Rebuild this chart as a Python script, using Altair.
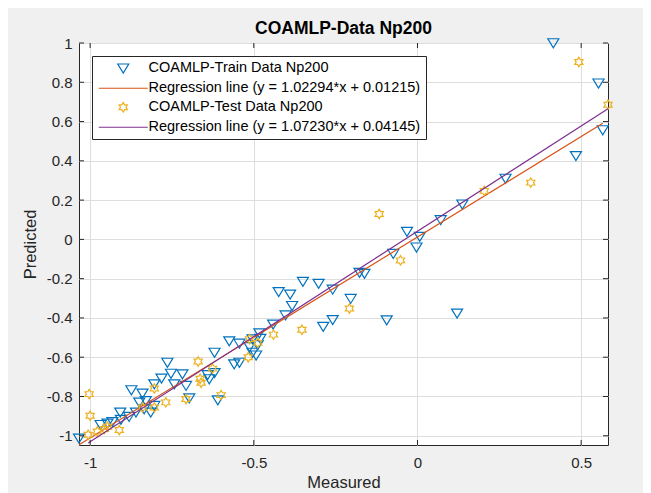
import altair as alt
import pandas as pd

# ---------------- data ----------------
train_measured = [0.415, 0.553, 0.566, 0.484, 0.269, 0.137, 0.071, -0.032, 0.007, -0.003,
                  -0.074, -0.094, 0.121, -0.177, -0.162, -0.350, -0.302, -0.424, -0.389, -0.259,
                  -0.204, -0.383, -0.403, -0.259, -0.288, -0.441, -0.483, -0.575, -0.544, -0.504,
                  -0.480, -0.513, -0.488, -0.493, -0.504, -0.620, -0.560, -0.544, -0.641, -0.620,
                  -0.636, -0.610, -1.034, -0.968, -0.947, -0.932, -0.906, -0.908, -0.881, -0.860,
                  -0.874, -0.840, -0.850, -0.830, -0.835, -0.804, -0.804, -0.782, -0.764, -0.753,
                  -0.743, -0.718, -0.707, -0.697, -0.815]
train_predicted = [1.000, 0.795, 0.557, 0.425, 0.310, 0.179, 0.099, 0.040, 0.014, -0.040,
                   -0.073, -0.411, -0.377, -0.169, -0.174, -0.215, -0.225, -0.267, -0.280, -0.255,
                   -0.302, -0.338, -0.386, -0.410, -0.444, -0.433, -0.477, -0.518, -0.530, -0.508,
                   -0.505, -0.547, -0.537, -0.590, -0.576, -0.576, -0.635, -0.627, -0.690, -0.680,
                   -0.711, -0.818, -1.013, -0.944, -0.937, -0.929, -0.918, -0.881, -0.903, -0.881,
                   -0.767, -0.784, -0.830, -0.822, -0.864, -0.847, -0.737, -0.708, -0.627, -0.683,
                   -0.737, -0.686, -0.745, -0.808, -0.881]
test_measured = [0.493, 0.582, 0.346, 0.204, -0.117, -0.052, -0.208, -0.353, -0.440, -0.513,
                 -0.488, -0.517, -0.626, -0.670, -0.664, -0.661, -0.600, -1.003, -1.000, -1.006,
                 -0.978, -0.957, -0.947, -0.911, -0.840, -0.804, -0.804, -0.769, -0.707]
test_predicted = [0.903, 0.686, 0.289, 0.247, 0.129, -0.107, -0.352, -0.460, -0.485, -0.508,
                  -0.527, -0.600, -0.658, -0.622, -0.710, -0.730, -0.793, -0.788, -0.898, -0.995,
                  -0.978, -0.966, -0.954, -0.971, -0.856, -0.856, -0.759, -0.830, -0.813]

train_slope, train_intercept = 1.02294, 0.01215
test_slope, test_intercept = 1.07230, 0.04145

TRAIN = "COAMLP-Train Data Np200"
TRAIN_FIT = "Regression line (y = 1.02294*x + 0.01215)"
TEST = "COAMLP-Test Data Np200"
TEST_FIT = "Regression line (y = 1.07230*x + 0.04145)"
series_order = [TRAIN, TRAIN_FIT, TEST, TEST_FIT]
series_colors = ["#0072BD", "#D95319", "#EDB120", "#7E2F8E"]

x_ticks = [-1, -0.5, 0, 0.5]
y_ticks = [-1, -0.8, -0.6, -0.4, -0.2, 0, 0.2, 0.4, 0.6, 0.8, 1]
x_domain = [-1.034, 0.582]
y_domain = [-1.047, 1.0]

# ---------------- marker shapes ----------------
TRI = "M-1.1,-0.85L1.1,-0.85L0,0.95Z"
LINE = "M-4.9,0L4.9,0"
HEX = ("M0,-0.95L0.275,-0.476L0.823,-0.475L0.55,0L0.823,0.475L0.275,0.476"
       "L0,0.95L-0.275,0.476L-0.823,0.475L-0.55,0L-0.823,-0.475L-0.275,-0.476Z")
shape_range = [TRI, LINE, HEX, LINE]

FONT = "Liberation Sans"
INK = "#262626"
W, H = 529, 402

train_df = pd.DataFrame({"Measured": train_measured, "Predicted": train_predicted, "series": TRAIN})
test_df = pd.DataFrame({"Measured": test_measured, "Predicted": test_predicted, "series": TEST})


def fit_df(xs, slope, intercept, name):
    x0, x1 = min(xs), max(xs)
    return pd.DataFrame({"Measured": [x0, x1],
                         "Predicted": [slope * x0 + intercept, slope * x1 + intercept],
                         "series": name})


train_fit_df = fit_df(train_measured, train_slope, train_intercept, TRAIN_FIT)
test_fit_df = fit_df(test_measured, test_slope, test_intercept, TEST_FIT)

xs = alt.Scale(domain=x_domain, nice=False, zero=False)
ys = alt.Scale(domain=y_domain, nice=False, zero=False)

x_axis = alt.Axis(values=x_ticks, labelExpr="'' + datum.value", grid=True, gridColor="#dedede",
                  gridWidth=1, ticks=False, tickSize=0, domain=False, labelFont=FONT,
                  labelFontSize=15, labelColor=INK, labelPadding=10, title="Measured",
                  titleFont=FONT, titleFontSize=16.5, titleFontWeight="normal", titleColor=INK,
                  titlePadding=4)
y_axis = alt.Axis(values=y_ticks, labelExpr="'' + datum.value", grid=True, gridColor="#dedede",
                  gridWidth=1, ticks=False, tickSize=0, domain=False, labelFont=FONT,
                  labelFontSize=15, labelColor=INK, labelPadding=7, title="Predicted",
                  titleFont=FONT, titleFontSize=16.5, titleFontWeight="normal", titleColor=INK,
                  titlePadding=8)

legend = alt.Legend(title=None, orient="none", legendX=13, legendY=13, direction="vertical",
                    fillColor="white", strokeColor=INK, padding=5, cornerRadius=0,
                    symbolSize=100, symbolStrokeWidth=1.2, symbolOffset=19, labelOffset=18,
                    labelFont=FONT, labelFontSize=14.5, labelColor="#000000", labelLimit=500,
                    rowPadding=4)

color_scale = alt.Scale(domain=series_order, range=series_colors)
shape_scale = alt.Scale(domain=series_order, range=shape_range)

X = alt.X("Measured:Q", scale=xs, axis=x_axis)
Y = alt.Y("Predicted:Q", scale=ys, axis=y_axis)

train_pts = alt.Chart(train_df).mark_point(filled=False, size=100, strokeWidth=1.2, opacity=1).encode(
    x=X, y=Y,
    color=alt.Color("series:N", scale=color_scale, legend=legend),
    shape=alt.Shape("series:N", scale=shape_scale, legend=legend),
)
train_line = alt.Chart(train_fit_df).mark_line(strokeWidth=1.2).encode(
    x=X, y=Y,
    color=alt.Color("series:N", scale=color_scale, legend=None),
)
test_pts = alt.Chart(test_df).mark_point(filled=False, size=100, strokeWidth=1.2, opacity=1).encode(
    x=X, y=Y,
    color=alt.Color("series:N", scale=color_scale, legend=None),
    shape=alt.Shape("series:N", scale=shape_scale, legend=None),
)
test_line = alt.Chart(test_fit_df).mark_line(strokeWidth=1.2).encode(
    x=X, y=Y,
    color=alt.Color("series:N", scale=color_scale, legend=None),
)

# inward tick marks on all four sides (MATLAB box style)
xt = pd.DataFrame({"Measured": x_ticks})
yt = pd.DataFrame({"Predicted": y_ticks})
tick_len = 5
xb = alt.Chart(xt).mark_rule(color=INK, strokeWidth=1).encode(
    x=X, y=alt.value(H), y2=alt.value(H - tick_len))
xtop = alt.Chart(xt).mark_rule(color=INK, strokeWidth=1).encode(
    x=X, y=alt.value(0), y2=alt.value(tick_len))
yl = alt.Chart(yt).mark_rule(color=INK, strokeWidth=1).encode(
    y=Y, x=alt.value(0), x2=alt.value(tick_len))
yr = alt.Chart(yt).mark_rule(color=INK, strokeWidth=1).encode(
    y=Y, x=alt.value(W), x2=alt.value(W - tick_len))

chart = alt.layer(train_pts, train_line, test_pts, test_line, xb, xtop, yl, yr).properties(
    width=W, height=H,
    title=alt.TitleParams("COAMLP-Data Np200", font=FONT, fontSize=17.5, fontWeight="bold",
                          color="#000000", anchor="middle", offset=1.5, dy=3, frame="group"),
    autosize="none",
    padding={"left": 71, "top": 35, "right": 35, "bottom": 48},
    background="#f0f0f0",
).configure_view(fill="white", stroke=INK, strokeWidth=1)

chart.save("out.html", embed_options={"renderer": "svg", "actions": False})
